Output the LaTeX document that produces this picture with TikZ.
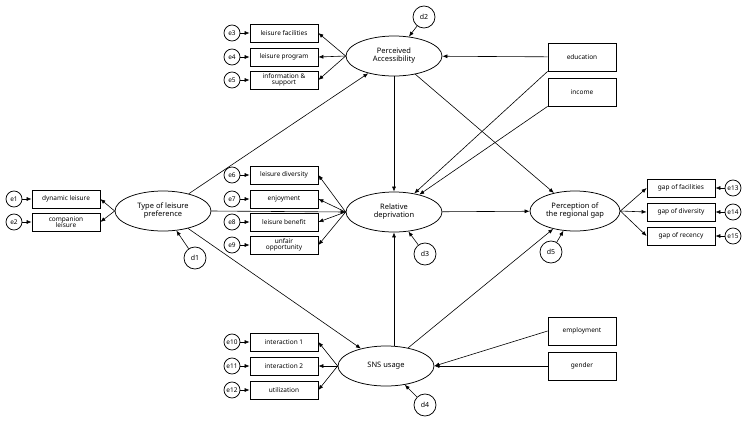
\documentclass[tikz,border=0pt]{standalone}
\usepackage{fontspec}
\setmainfont{Noto Sans}
\usetikzlibrary{arrows.meta,shapes.geometric}
\tikzset{every picture/.style={line width=0.75pt}}
\tikzset{
  lat/.style={draw,ellipse,minimum width=96pt,minimum height=40pt,inner sep=0pt,align=center,font=\fontsize{7.5}{8}\selectfont},
  obs/.style={draw,rectangle,minimum width=68pt,minimum height=18pt,inner sep=0pt,align=center,font=\fontsize{6.5}{6.5}\selectfont},
  ext/.style={obs,minimum height=28pt},
  err/.style={draw,circle,minimum size=16pt,inner sep=0pt,font=\fontsize{6.5}{7}\selectfont},
  dis/.style={draw,circle,minimum size=22pt,inner sep=0pt,font=\fontsize{7}{7}\selectfont},
  arr/.style={-{Latex[length=5pt,width=4pt]},line width=0.6pt}
}
\begin{document}
\begin{tikzpicture}[x=1pt,y=1pt,yscale=-1]
	\useasboundingbox (0,0) rectangle (753,424);
	
	% latent variables
	\node [lat] (tlp) at (163,211) {Type of leisure\\preference};
	\node [lat] (pa) at (394,56) {Perceived\\Accessibility};
	\node [lat] (rd) at (394,212) {Relative\\deprivation};
	\node [lat] (sns) at (386,366) {SNS usage};
	\node [lat,minimum width=90pt] (prg) at (575,211) {Perception of\\the regional gap};
	
	% indicators
	\node [obs] (x1) at (66,199) {dynamic leisure};
	\node [obs] (x2) at (66,222) {companion\\leisure};
	\node [obs] (x3) at (284,33) {leisure facilities};
	\node [obs] (x4) at (284,57) {leisure program};
	\node [obs] (x5) at (284,80) {information \&\\support};
	\node [obs] (x6) at (284,175) {leisure diversity};
	\node [obs] (x7) at (284,199) {enjoyment};
	\node [obs] (x8) at (284,222) {leisure benefit};
	\node [obs] (x9) at (284,245) {unfair\\opportunity};
	\node [obs] (x10) at (284,342) {interaction 1};
	\node [obs] (x11) at (284,366) {interaction 2};
	\node [obs] (x12) at (284,390) {utilization};
	\node [obs] (x13) at (681,188) {gap of facilities};
	\node [obs] (x14) at (681,212) {gap of diversity};
	\node [obs] (x15) at (681,236) {gap of recency};
	
	% covariates
	\node [ext] (edu) at (582,57) {education};
	\node [ext] (inc) at (582,92) {income};
	\node [ext] (emp) at (582,331) {employment};
	\node [ext] (gen) at (582,366) {gender};
	
	% errors
	\node [err] (e1) at (14,199) {e1};
	\node [err] (e2) at (14,222) {e2};
	\foreach \i/\y in {3/33,4/57,5/80,6/175,7/199,8/222,9/245}
		\node [err] (e\i) at (232,\y) {e\i};
	\foreach \i/\y in {10/342,11/366,12/390}
		\node [err] (e\i) at (232,\y) {e\i};
	\foreach \i/\y in {13/188,14/212,15/236}
		\node [err] (e\i) at (733,\y) {e\i};
	\foreach \i in {1,...,15}
		\draw [arr] (e\i) -- (x\i);
	
	% disturbances
	\node [dis] (d1) at (195,258) {d1};
	\node [dis] (d2) at (424,17) {d2};
	\node [dis] (d3) at (425,254) {d3};
	\node [dis] (d4) at (425,405) {d4};
	\node [dis] (d5) at (551,252) {d5};
	\draw [arr] (d1) -- (tlp);
	\draw [arr] (d2) -- (pa);
	\draw [arr] (d3) -- (rd);
	\draw [arr] (d4) -- (sns);
	\draw [arr] (d5) -- (prg);
	
	% loadings
	\draw [arr] (tlp.west) -- (x1.east);
	\draw [arr] (tlp.west) -- (x2.east);
	\foreach \i in {3,4,5}
		\draw [arr] (pa.west) -- (x\i.east);
	\foreach \i in {6,7,8,9}
		\draw [arr] (rd.west) -- (x\i.east);
	\foreach \i in {10,11,12}
		\draw [arr] (sns.west) -- (x\i.east);
	\foreach \i in {13,14,15}
		\draw [arr] (prg.east) -- (x\i.west);
	
	% structural paths
	\draw [arr] (tlp) -- (pa);
	\draw [arr] (tlp.east) -- (rd.west);
	\draw [arr] (tlp) -- (sns);
	\draw [arr] (pa) -- (rd);
	\draw [arr] (pa) -- (prg);
	\draw [arr] (rd) -- (prg);
	\draw [arr] (sns.north -| rd.south) -- (rd.south);
	\draw [arr] (sns) -- (prg);
	\draw [arr] (edu) -- (pa);
	\draw [arr] (edu.south west) -- (rd);
	\draw [arr] (inc.south west) -- (rd);
	\draw [arr] (emp.west) -- (sns.east);
	\draw [arr] (gen) -- (sns);
	
\end{tikzpicture}
\end{document}
